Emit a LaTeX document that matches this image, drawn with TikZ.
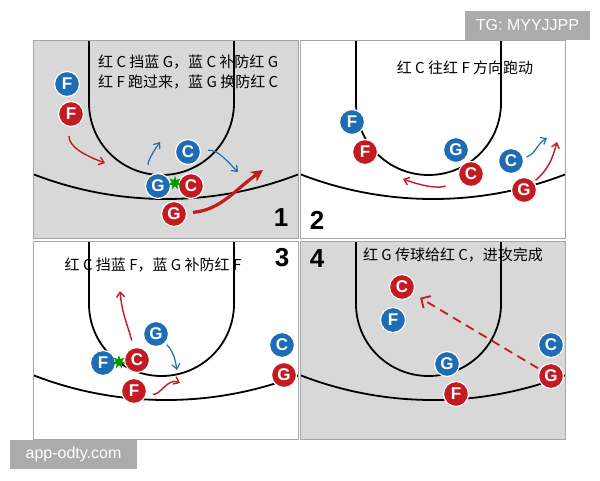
\documentclass[tikz,border=0pt]{standalone}
\usepackage{fontspec}
\setsansfont{Liberation Sans}
\newfontfamily\cjk{Noto Sans CJK SC}
\usetikzlibrary{arrows.meta,shapes.geometric}
\definecolor{courtgray}{HTML}{D8D8D8}
\definecolor{offred}{HTML}{C41A22}
\definecolor{defblue}{HTML}{1E6CB4}
\definecolor{wgray}{HTML}{ABABAB}
\tikzset{
	courtline/.style={draw=black, line width=1.8pt},
	panelrule/.style={draw=black!35, line width=0.8pt},
	player/.style={circle, minimum size=25pt, inner sep=0pt, draw=white, line width=1.2pt, text=white, font=\sffamily\bfseries\fontsize{17}{17}\selectfont},
	redp/.style={player, fill=offred},
	bluep/.style={player, fill=defblue},
	redarr/.style={draw=offred, line width=1.4pt, -{Straight Barb[length=5pt,width=8pt]}},
	bluearr/.style={draw=defblue, line width=1.2pt, -{Straight Barb[length=5pt,width=8pt]}},
	bigarr/.style={draw=offred, line width=3.2pt, -{Stealth[length=12pt,width=12pt]}},
	passarr/.style={draw=offred, line width=1.8pt, dash pattern=on 9pt off 6pt, -{Straight Barb[length=7pt,width=14pt]}},
	screen/.style={star, star points=7, star point ratio=2.2, fill=green!60!black, inner sep=0pt, minimum size=14pt},
	caption/.style={font=\cjk\fontsize{15}{15}\selectfont, inner sep=0pt},
	panelno/.style={font=\sffamily\bfseries\fontsize{26}{26}\selectfont, inner sep=0pt},
	wmark/.style={fill=wgray, text=white, minimum height=29pt, inner sep=0pt, font=\sffamily\fontsize{16}{16}\selectfont}
}
% one half court: (top left corner)[background]
\def\court(#1,#2)[#3]{%
	\begin{scope}[shift={(#1,#2)}]
		\fill[#3] (0,0) rectangle (265,198);
		\begin{scope}
			\clip (0,0) rectangle (265,198);
			\draw[courtline] (133,-207) circle (366);
		\end{scope}
		\draw[courtline] (56,0) -- (56,63) arc[start angle=180, end angle=0, x radius=72.5, y radius=72] -- (201,0);
		\draw[panelrule] (0,0) rectangle (265,198);
	\end{scope}}

\begin{document}
\begin{tikzpicture}[x=1pt,y=-1pt]
		%%%%% START %%%%%
		\useasboundingbox (0,0) rectangle (600,480);
		
		\court(33,40)[courtgray]
		\court(300,40)[white]
		\court(33,241)[white]
		\court(300,241)[courtgray]
		
		%%%%% 1 %%%%%
		\node[caption, anchor=west] (t1a) at (98,62) {红 C 挡蓝 G，蓝 C 补防红 G};
		\node[caption, anchor=west] (t1b) at (98,82) {红 F 跑过来，蓝 G 换防红 C};
		\node[panelno] (n1) at (281,218) {1};
		\node[bluep] (bF1) at (67,84) {F};
		\node[redp] (rF1) at (71,114) {F};
		\node[bluep] (bC1) at (188,152) {C};
		\node[bluep] (bG1) at (158,186) {G};
		\node[redp] (rC1) at (191,186) {C};
		\node[redp] (rG1) at (174,214) {G};
		\node[screen] (scr1) at (175,183) {};
		\coordinate (f1end) at (105,163);
		\coordinate (g1end) at (160,142);
		\coordinate (c1end) at (238,172);
		\coordinate (g1run) at (263,170);
		\draw[redarr, shorten <=9pt] (rF1) to[out=-95,in=160] (f1end);
		\draw[bluearr, shorten <=10pt] (bG1) to[out=115,in=-125] (g1end);
		\draw[bluearr, shorten <=7pt] (bC1) to[out=5,in=135] (c1end);
		\draw[bigarr, shorten <=6pt] (rG1) to[out=5,in=-145] (g1run);
		
		%%%%% 2 %%%%%
		\node[caption] (t2) at (465,68) {红 C 往红 F 方向跑动};
		\node[panelno] (n2) at (317,220) {2};
		\node[bluep] (bF2) at (352,122) {F};
		\node[redp] (rF2) at (365,152) {F};
		\node[bluep] (bG2) at (456,150) {G};
		\node[redp] (rC2) at (471,174) {C};
		\node[bluep] (bC2) at (511,161) {C};
		\node[redp] (rG2) at (524,190) {G};
		\coordinate (c2run) at (403,179);
		\coordinate (c2cut) at (547,138);
		\coordinate (g2cut) at (557,142);
		\draw[redarr, shorten <=15pt] (rC2) to[out=-155,in=-20] (c2run);
		\draw[bluearr, shorten <=3pt] (bC2) to[out=15,in=-150] (c2cut);
		\draw[redarr, shorten <=2pt] (rG2) to[out=40,in=-105] (g2cut);
		
		%%%%% 3 %%%%%
		\node[caption] (t3) at (153,265) {红 C 挡蓝 F，蓝 G 补防红 F};
		\node[panelno] (n3) at (282,258) {3};
		\node[bluep] (bG3) at (156,334) {G};
		\node[bluep] (bF3) at (103,363) {F};
		\node[redp] (rC3) at (137,360) {C};
		\node[redp] (rF3) at (134,391) {F};
		\node[bluep] (bC3) at (282,345) {C};
		\node[redp] (rG3) at (284,375) {G};
		\node[screen] (scr3) at (119,362) {};
		\coordinate (c3roll) at (120,291);
		\coordinate (g3help) at (177,370);
		\coordinate (f3cut) at (180,383);
		\draw[redarr, shorten <=7pt] (rC3) to[out=105,in=-85] (c3roll);
		\draw[bluearr, shorten <=2pt] (bG3) to[out=-45,in=100] (g3help);
		\draw[redarr, shorten <=6pt] (rF3) to[out=-10,in=155] (f3cut);
		
		%%%%% 4 %%%%%
		\node[caption] (t4) at (453,255) {红 G 传球给红 C，进攻完成};
		\node[panelno] (n4) at (317,259) {4};
		\node[redp] (rC4) at (402,287) {C};
		\node[bluep] (bF4) at (393,320) {F};
		\node[bluep] (bG4) at (447,364) {G};
		\node[redp] (rF4) at (456,394) {F};
		\node[bluep] (bC4) at (551,345) {C};
		\node[redp] (rG4) at (551,376) {G};
		\draw[passarr, shorten <=2pt, shorten >=8pt] (rG4) -- (rC4);
		
		%%%%% WATERMARKS %%%%%
		\node[wmark, minimum width=125pt] (tg) at (527.5,25) {TG: MYYJJPP};
		\node[wmark, minimum width=127pt] (site) at (73.5,454.5) {app-odty.com};
		%%%%% END %%%%%
\end{tikzpicture}
\end{document}
